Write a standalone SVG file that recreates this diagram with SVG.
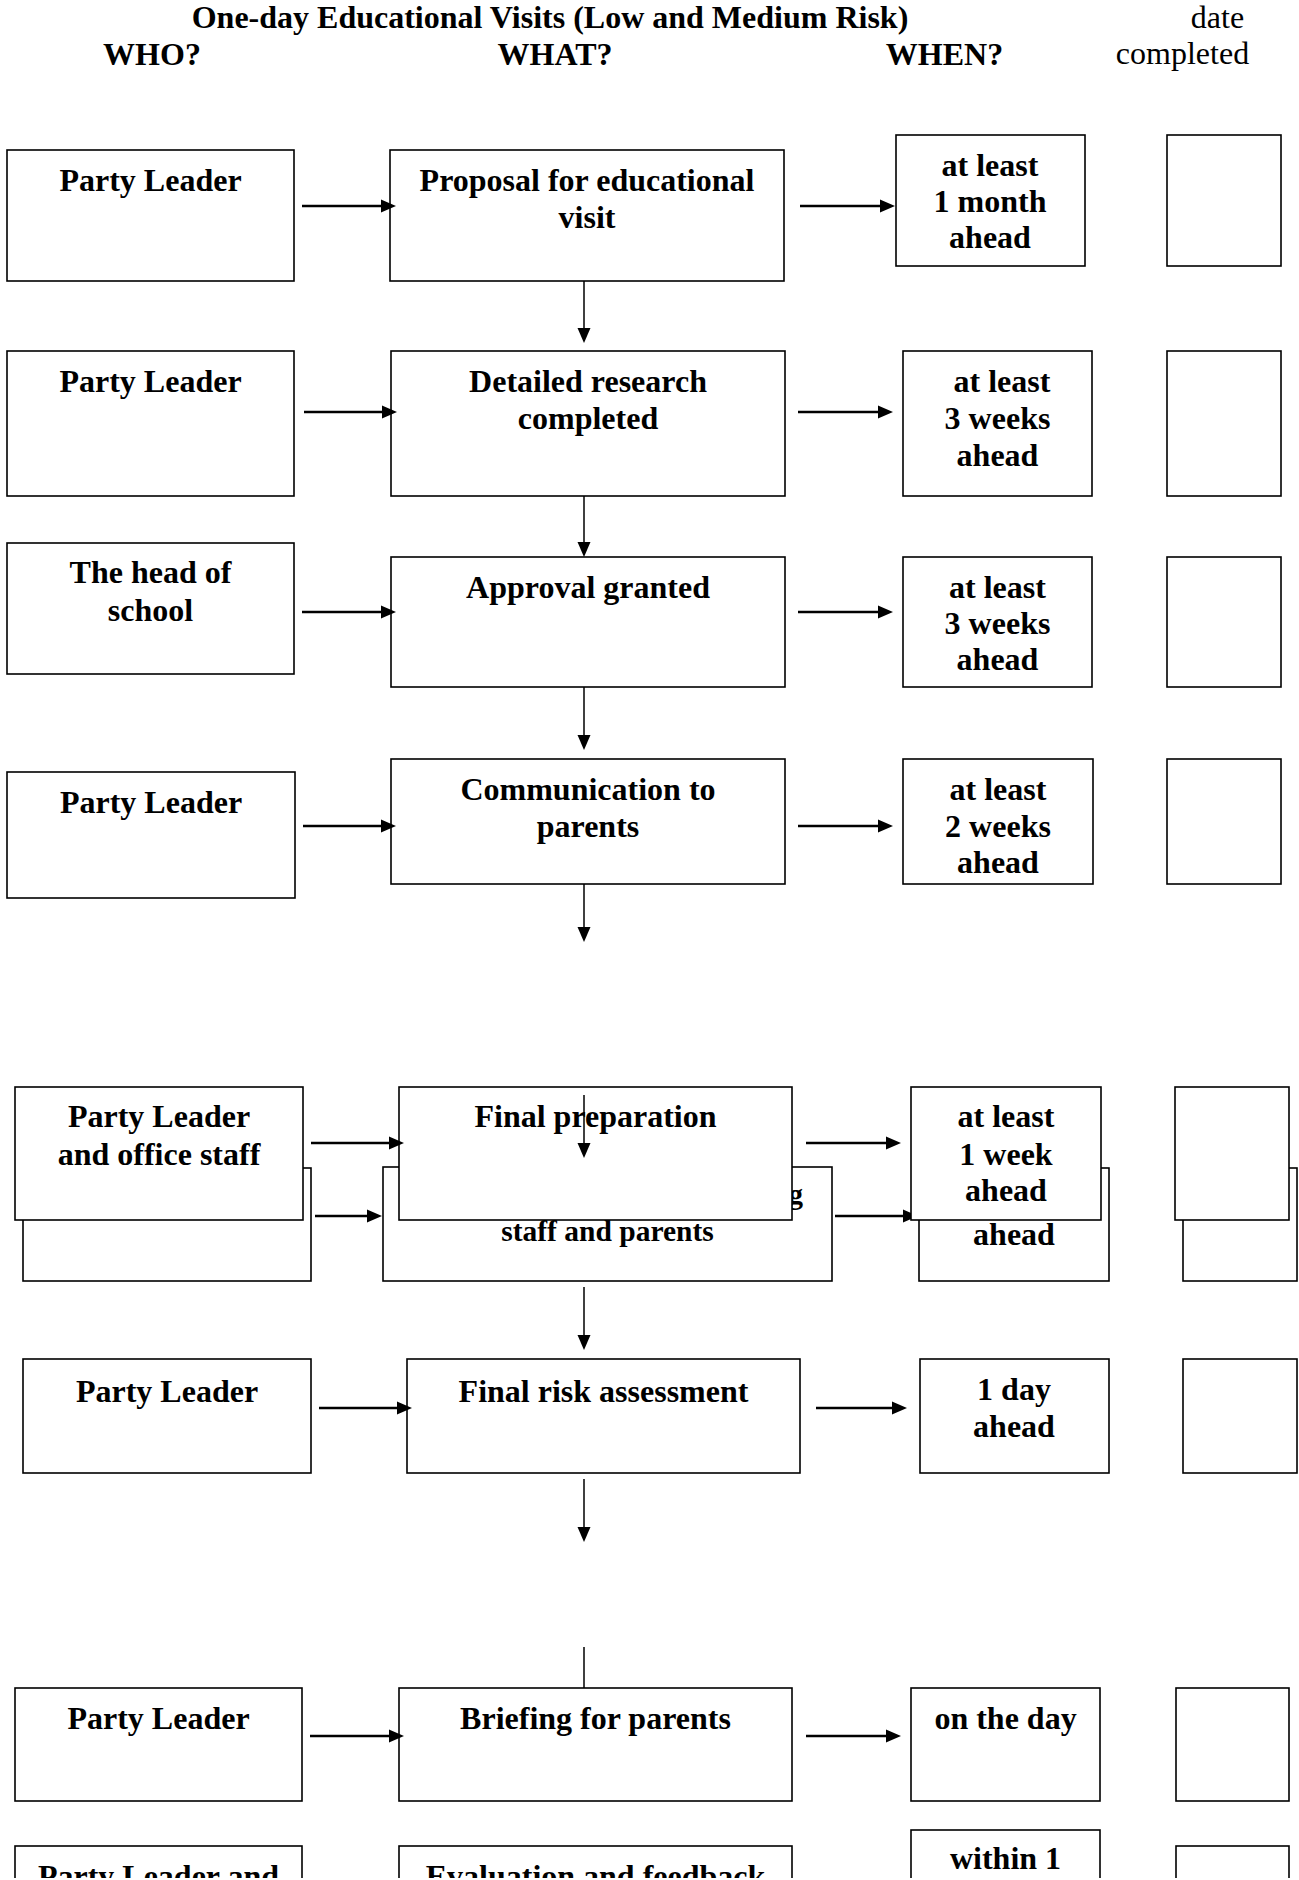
<svg xmlns="http://www.w3.org/2000/svg" width="1299" height="1880" viewBox="0 0 1299 1880">
  <style>
    .box { fill: #fff; stroke: #000; stroke-width: 1.6; }
    .t { font-family: "Liberation Serif", "Times New Roman", serif; font-size: 32px; font-weight: bold; fill: #000; text-anchor: middle; }
    .s { font-size: 29.5px; }
    .h { font-family: "Liberation Serif", "Times New Roman", serif; font-size: 32px; fill: #000; text-anchor: middle; }
    .ha { stroke: #000; stroke-width: 2.4; fill: none; marker-end: url(#ah); }
    .va { stroke: #000; stroke-width: 1.5; fill: none; marker-end: url(#ah); }
    .vl { stroke: #000; stroke-width: 1.5; fill: none; }
  </style>
  <defs>
    <marker id="ah" markerUnits="userSpaceOnUse" viewBox="0 0 15 14" markerWidth="15" markerHeight="14" refX="2" refY="7" orient="auto">
      <path d="M0,0.5 L15,7 L0,13.5 z" fill="#000"/>
    </marker>
  </defs>
  <rect width="1299" height="1880" fill="#fff"/>

  <!-- column headings -->
  <g id="headings">
    <text class="t" x="550" y="28">One-day Educational Visits (Low and Medium Risk)</text>
    <text class="h" x="1217.5" y="28">date</text>
    <text class="t" x="152" y="65">WHO?</text>
    <text class="t" x="555" y="65">WHAT?</text>
    <text class="t" x="944.5" y="65">WHEN?</text>
    <text class="h" x="1182.5" y="64">completed</text>
  </g>

  <!-- row 1 -->
  <g id="who-1"><rect class="box" x="7" y="150" width="287" height="131"/><text class="t" x="150.5" y="191">Party Leader</text></g>
  <g id="what-1"><rect class="box" x="390" y="150" width="394" height="131"/><text class="t" x="587" y="191">Proposal for educational</text><text class="t" x="587" y="228">visit</text></g>
  <g id="when-1"><rect class="box" x="896" y="135" width="189" height="131"/><text class="t" x="990" y="176">at least</text><text class="t" x="990" y="212">1 month</text><text class="t" x="990" y="248">ahead</text></g>
  <g id="date-1"><rect class="box" x="1167" y="135" width="114" height="131"/></g>

  <!-- row 2 -->
  <g id="who-2"><rect class="box" x="7" y="351" width="287" height="145"/><text class="t" x="150.5" y="392">Party Leader</text></g>
  <g id="what-2"><rect class="box" x="391" y="351" width="394" height="145"/><text class="t" x="588" y="392">Detailed research</text><text class="t" x="588" y="429">completed</text></g>
  <g id="when-2"><rect class="box" x="903" y="351" width="189" height="145"/><text class="t" x="1002" y="392">at least</text><text class="t" x="997.5" y="429">3 weeks</text><text class="t" x="997.5" y="466">ahead</text></g>
  <g id="date-2"><rect class="box" x="1167" y="351" width="114" height="145"/></g>

  <!-- row 3 -->
  <g id="who-3"><rect class="box" x="7" y="543" width="287" height="131"/><text class="t" x="150.5" y="583">The head of</text><text class="t" x="150.5" y="621">school</text></g>
  <g id="what-3"><rect class="box" x="391" y="557" width="394" height="130"/><text class="t" x="588" y="598">Approval granted</text></g>
  <g id="when-3"><rect class="box" x="903" y="557" width="189" height="130"/><text class="t" x="997.5" y="598">at least</text><text class="t" x="997.5" y="634">3 weeks</text><text class="t" x="997.5" y="670">ahead</text></g>
  <g id="date-3"><rect class="box" x="1167" y="557" width="114" height="130"/></g>

  <!-- row 4 -->
  <g id="who-4"><rect class="box" x="7" y="772" width="288" height="126"/><text class="t" x="151" y="813">Party Leader</text></g>
  <g id="what-4"><rect class="box" x="391" y="759" width="394" height="125"/><text class="t" x="588" y="800">Communication to</text><text class="t" x="588" y="837">parents</text></g>
  <g id="when-4"><rect class="box" x="903" y="759" width="190" height="125"/><text class="t" x="998" y="800">at least</text><text class="t" x="998" y="837">2 weeks</text><text class="t" x="998" y="873">ahead</text></g>
  <g id="date-4"><rect class="box" x="1167" y="759" width="114" height="125"/></g>

  <!-- row 5, lower layer -->
  <g id="who-5b"><rect class="box" x="23" y="1168" width="288" height="113"/></g>
  <g id="what-5b"><rect class="box" x="383" y="1167" width="449" height="114"/><text class="t s" x="803" y="1204" style="text-anchor:end">g</text><text class="t s" x="607.5" y="1241">staff and parents</text></g>
  <g id="when-5b"><rect class="box" x="919" y="1168" width="190" height="113"/><text class="t" x="1014" y="1245">ahead</text></g>
  <g id="date-5b"><rect class="box" x="1183" y="1168" width="114" height="113"/></g>
  <g id="connectors-5b">
    <line class="ha" x1="315" y1="1216" x2="369" y2="1216"/>
    <line class="ha" x1="835" y1="1216" x2="905" y2="1216"/>
    <line class="va" x1="584" y1="1287" x2="584" y2="1337"/>
  </g>

  <!-- row 5, upper layer -->
  <g id="who-5"><rect class="box" x="15" y="1087" width="288" height="133"/><text class="t" x="159" y="1127">Party Leader</text><text class="t" x="159" y="1165">and office staff</text></g>
  <g id="what-5"><rect class="box" x="399" y="1087" width="393" height="133"/><text class="t" x="595.5" y="1127">Final preparation</text></g>
  <g id="when-5"><rect class="box" x="911" y="1087" width="190" height="133"/><text class="t" x="1006" y="1127">at least</text><text class="t" x="1006" y="1165">1 week</text><text class="t" x="1006" y="1201">ahead</text></g>
  <g id="date-5"><rect class="box" x="1175" y="1087" width="114" height="133"/></g>

  <!-- row 6 -->
  <g id="who-6"><rect class="box" x="23" y="1359" width="288" height="114"/><text class="t" x="167" y="1402">Party Leader</text></g>
  <g id="what-6"><rect class="box" x="407" y="1359" width="393" height="114"/><text class="t" x="603.5" y="1402">Final risk assessment</text></g>
  <g id="when-6"><rect class="box" x="920" y="1359" width="189" height="114"/><text class="t" x="1014" y="1400">1 day</text><text class="t" x="1014" y="1437">ahead</text></g>
  <g id="date-6"><rect class="box" x="1183" y="1359" width="114" height="114"/></g>

  <!-- row 7 -->
  <g id="who-7"><rect class="box" x="15" y="1688" width="287" height="113"/><text class="t" x="158.5" y="1729">Party Leader</text></g>
  <g id="what-7"><rect class="box" x="399" y="1688" width="393" height="113"/><text class="t" x="595.5" y="1729">Briefing for parents</text></g>
  <g id="when-7"><rect class="box" x="911" y="1688" width="189" height="113"/><text class="t" x="1005.5" y="1729">on the day</text></g>
  <g id="date-7"><rect class="box" x="1176" y="1688" width="113" height="113"/></g>

  <!-- row 8 (runs off the page) -->
  <g id="who-8"><rect class="box" x="15" y="1846" width="287" height="120"/><text class="t" x="158.5" y="1887">Party Leader and</text></g>
  <g id="what-8"><rect class="box" x="399" y="1846" width="393" height="120"/><text class="t" x="595.5" y="1887">Evaluation and feedback</text></g>
  <g id="when-8"><rect class="box" x="911" y="1830" width="189" height="120"/><text class="t" x="1005.5" y="1869">within 1</text></g>
  <g id="date-8"><rect class="box" x="1176" y="1846" width="113" height="120"/></g>

  <!-- connectors -->
  <g id="connectors">
    <line class="ha" x1="302" y1="206" x2="383" y2="206"/>
    <line class="ha" x1="800" y1="206" x2="882" y2="206"/>
    <line class="va" x1="584" y1="281" x2="584" y2="330"/>

    <line class="ha" x1="304" y1="412" x2="384" y2="412"/>
    <line class="ha" x1="798" y1="412" x2="880" y2="412"/>
    <line class="va" x1="584" y1="496" x2="584" y2="544"/>

    <line class="ha" x1="302" y1="612" x2="383" y2="612"/>
    <line class="ha" x1="798" y1="612" x2="880" y2="612"/>
    <line class="va" x1="584" y1="687" x2="584" y2="737"/>

    <line class="ha" x1="303" y1="826" x2="383" y2="826"/>
    <line class="ha" x1="798" y1="826" x2="880" y2="826"/>
    <line class="va" x1="584" y1="884" x2="584" y2="929"/>

    <line class="ha" x1="311" y1="1143" x2="391" y2="1143"/>
    <line class="ha" x1="806" y1="1143" x2="888" y2="1143"/>
    <line class="va" x1="584" y1="1095" x2="584" y2="1145"/>

    <line class="ha" x1="319" y1="1408" x2="399" y2="1408"/>
    <line class="ha" x1="816" y1="1408" x2="894" y2="1408"/>
    <line class="va" x1="584" y1="1479" x2="584" y2="1529"/>

    <line class="vl" x1="584" y1="1647" x2="584" y2="1688"/>
    <line class="ha" x1="310" y1="1736" x2="391" y2="1736"/>
    <line class="ha" x1="806" y1="1736" x2="888" y2="1736"/>
  </g>

  <!-- page edge -->
  <rect x="0" y="1878" width="1299" height="2" fill="#fff"/>
</svg>
